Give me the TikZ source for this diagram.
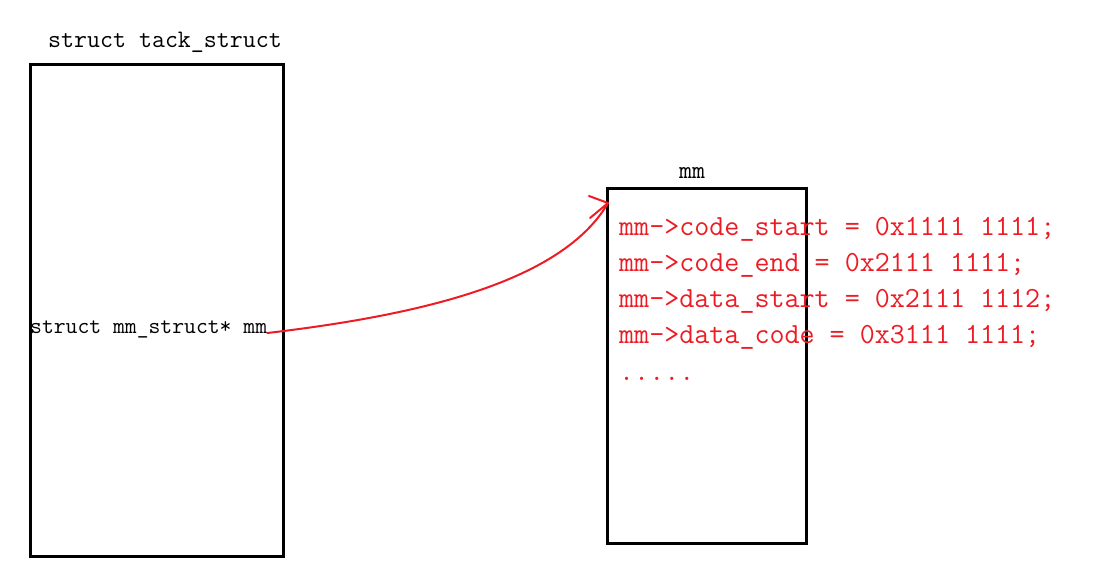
\documentclass[tikz,border=0pt]{standalone}
\usepackage{fontspec}
\definecolor{paintred}{RGB}{237,28,36}
\begin{document}
\begin{tikzpicture}[x=1pt,y=-1pt,
  box/.style={draw=black,line width=3pt},
  blacktxt/.style={font=\ttfamily\fontsize{23}{27}\selectfont,inner sep=0pt,anchor=base west},
  titletxt/.style={font=\ttfamily\fontsize{25.2}{29}\selectfont,inner sep=0pt,anchor=base west},
  redtxt/.style={font=\ttfamily\fontsize{29.2}{33}\selectfont,text=paintred,inner sep=0pt,anchor=base west},
  link/.style={draw=paintred,line width=2pt,line cap=round,line join=round}]
\useasboundingbox (0,0) rectangle (1106,587);
% left structure
\draw[box] (30,64) rectangle (283,556);
\node[titletxt] (title) at (48,47) {struct tack\_struct};
\node[blacktxt] (mmfield) at (30,333) {struct mm\_struct* mm};
% right structure
\draw[box] (607,188) rectangle (806,543);
\node[titletxt] (mmtitle) at (679,178) {mm};
\node[redtxt] (l1) at (619,235) {mm->code\_start = 0x1111 1111;};
\node[redtxt] (l2) at (619,271) {mm->code\_end = 0x2111 1111;};
\node[redtxt] (l3) at (619,307) {mm->data\_start = 0x2111 1112;};
\node[redtxt] (l4) at (619,343) {mm->data\_code = 0x3111 1111;};
\node[redtxt] (l5) at (619,380) {.....};
% pointer
\coordinate (src) at (mmfield.base east);
\coordinate (tip) at (608,203);
\draw[link] (src) .. controls (420,315) and (562,282) .. (tip);
\draw[link] ([shift={(-19,-7)}]tip) -- (tip) -- ([shift={(-18,15)}]tip);
\end{tikzpicture}
\end{document}
